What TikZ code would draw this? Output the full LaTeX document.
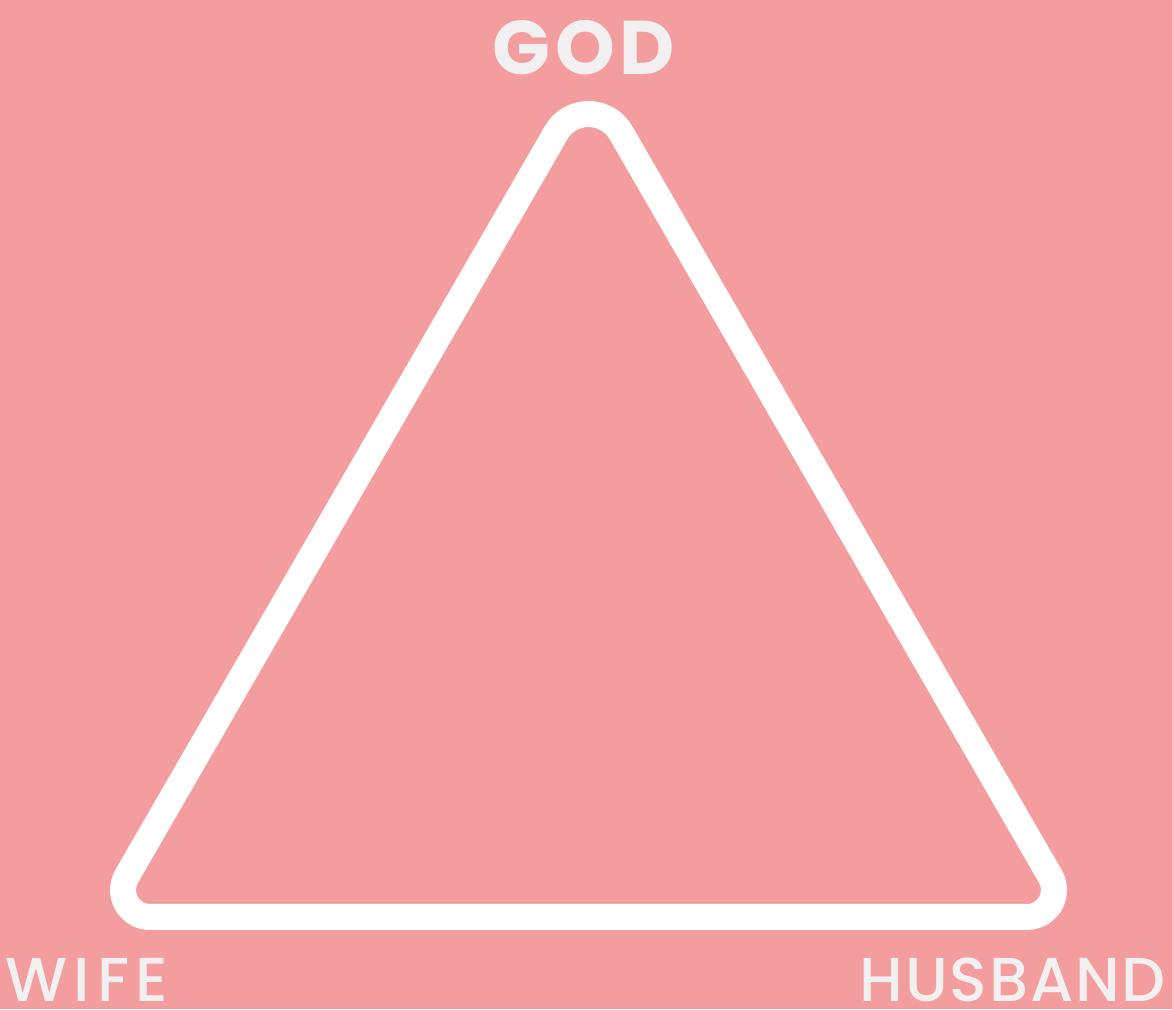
\documentclass[tikz,border=0pt]{standalone}
\usepackage{fontspec}
\setmainfont{Poppins}
\newfontfamily\wifefont[LetterSpace=11,UprightFont={* Medium}]{Poppins}
\newfontfamily\husbandfont[LetterSpace=3,UprightFont={* Medium}]{Poppins}
\newfontfamily\godfont[LetterSpace=6]{Poppins}
\definecolor{bgpink}{HTML}{F39D9E}
\definecolor{labelgrey}{HTML}{F3F0F1}
\begin{document}
\begin{tikzpicture}[x=1pt,y=1pt,
  lbl/.style={inner sep=0pt,text depth=0pt,text=labelgrey},
  godlbl/.style={inner sep=0pt,text depth=0pt,text=labelgrey,font=\godfont\bfseries\fontsize{76}{76}\selectfont}]
\fill[bgpink] (0,0) rectangle (1172,1009);
\useasboundingbox (0,0) rectangle (1172,1009);
\draw[white,line width=26pt,line join=round]
  (588.5,92) -- (1027,92) arc[start angle=-90,end angle=30,radius=27]
  -- (621,876.2) arc[start angle=30,end angle=150,radius=37.5]
  -- (126.6,132.5) arc[start angle=150,end angle=270,radius=27] -- cycle;
\node[godlbl,anchor=base] (god) at (584,934) {GOD};
\node[lbl,font=\wifefont\fontsize{62}{62}\selectfont,anchor=base west] (wife) at (5,8) {WIFE};
\node[lbl,font=\husbandfont\fontsize{62}{62}\selectfont,anchor=base east] (husband) at (1166,8) {HUSBAND};
\end{tikzpicture}
\end{document}
